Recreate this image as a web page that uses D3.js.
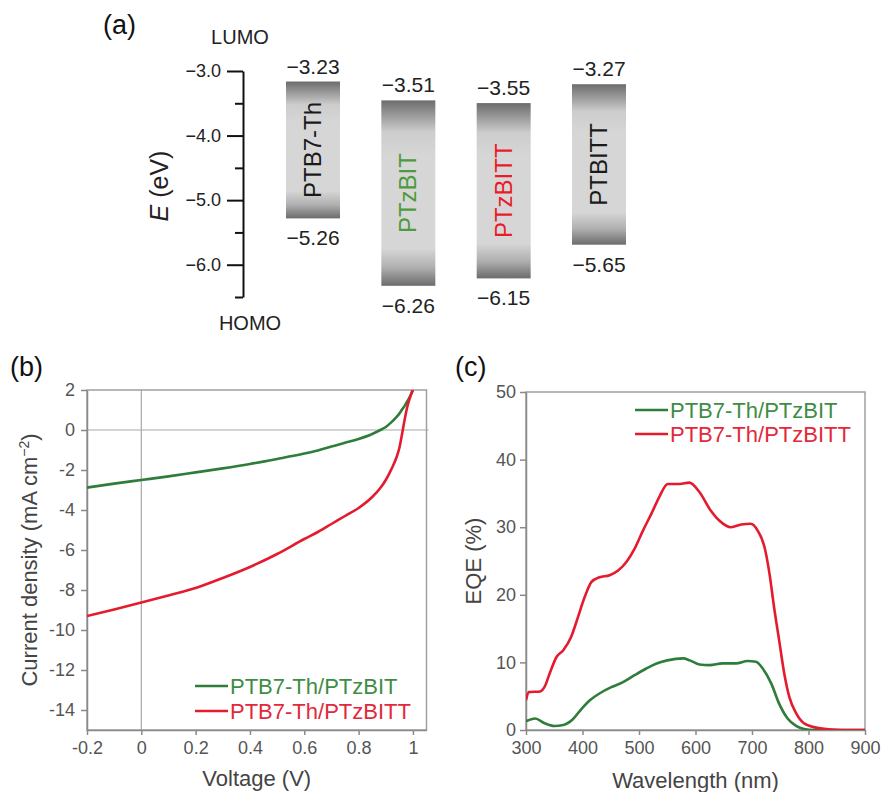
<!DOCTYPE html>
<html>
<head>
<meta charset="utf-8">
<script src="https://cdn.jsdelivr.net/npm/d3@7"></script>
<style>
  body { margin: 0; background: #fff; }
  svg { display: block; font-family: 'Liberation Sans', Arial, sans-serif; }
</style>
</head>
<body>
<div id="chart"></div>
<script>
// ---------- data: (a) energy levels ----------
const levelNames = ['PTB7-Th', 'PTzBIT', 'PTzBITT', 'PTBITT'];
const lumoLevels = [-3.23, -3.51, -3.55, -3.27];
const homoLevels = [-5.26, -6.26, -6.15, -5.65];
const energyTicks = [-3, -4, -5, -6];
const energyMinorTicks = [-3.5, -4.5, -5.5, -6.5];

// ---------- data: (b) J-V curves ----------
const jvVoltage = [-0.2, -0.1, 0, 0.1, 0.2, 0.3, 0.4, 0.5, 0.6, 0.65, 0.7, 0.75, 0.8, 0.85, 0.88, 0.9, 0.92, 0.94, 0.95, 0.96, 0.97, 0.98, 0.99, 1.0];
const jvPTzBIT = [-2.88, -2.68, -2.5, -2.32, -2.12, -1.92, -1.7, -1.45, -1.18, -1.02, -0.82, -0.64, -0.45, -0.2, 0.0, 0.15, 0.38, 0.66, 0.82, 1.02, 1.22, 1.45, 1.7, 1.98];
const jvPTzBITT = [-9.3, -8.97, -8.63, -8.27, -7.9, -7.4, -6.85, -6.2, -5.45, -5.1, -4.7, -4.3, -3.9, -3.35, -2.9, -2.5, -1.98, -1.35, -0.9, -0.2, 0.55, 1.2, 1.65, 2.05];
const jvXTicks = [-0.2, 0, 0.2, 0.4, 0.6, 0.8, 1];
const jvXTickLabels = ['-0.2', '0', '0.2', '0.4', '0.6', '0.8', '1'];
const jvYTicks = [2, 0, -2, -4, -6, -8, -10, -12, -14];
const jvYTickLabels = ['2', '0', '-2', '-4', '-6', '-8', '-10', '-12', '-14'];

// ---------- data: (c) EQE spectra ----------
const eqeWlPTzBIT = [300, 316, 333, 350, 366, 383, 398, 413, 430, 450, 470, 492, 513, 530, 550, 578, 590, 607, 625, 648, 672, 692, 707, 719, 734, 748, 763, 778, 792, 810, 850, 900];
const eqePTzBIT = [1.3, 1.7, 1.0, 0.6, 0.75, 1.6, 3.1, 4.4, 5.4, 6.3, 7.0, 8.1, 9.1, 9.8, 10.3, 10.6, 10.3, 9.7, 9.6, 9.85, 9.85, 10.2, 10.1, 9.1, 6.9, 3.9, 1.7, 0.6, 0.15, 0, 0, 0];
const eqeWlPTzBITT = [300, 305, 325, 333, 342, 354, 366, 380, 392, 404, 416, 430, 448, 463, 478, 492, 507, 522, 536, 551, 572, 589, 607, 625, 642, 663, 681, 698, 710, 722, 731, 739, 748, 757, 766, 778, 792, 813, 836, 860, 900];
const eqePTzBITT = [4.4, 5.6, 5.7, 6.4, 8.4, 10.8, 11.8, 13.8, 16.7, 19.7, 21.9, 22.6, 22.9, 23.6, 24.9, 26.8, 29.5, 32.0, 34.5, 36.4, 36.4, 36.6, 35.2, 32.7, 31.0, 30.0, 30.4, 30.5, 29.5, 27.1, 23.1, 18.2, 13.3, 8.4, 4.9, 2.5, 1.0, 0.35, 0.1, 0, 0];
const eqeXTicks = [300, 400, 500, 600, 700, 800, 900];
const eqeYTicks = [0, 10, 20, 30, 40, 50];

const seriesNames = ['PTB7-Th/PTzBIT', 'PTB7-Th/PTzBITT'];

// colours
const green = '#2f7d3a';
const red = '#e41b2f';
const greenText = '#3f8c45';
const redText = '#e3283a';
const levelTextColors = ['#1a1a1a', '#4e9a3e', '#ea1c2c', '#1a1a1a'];

const svg = d3.select('#chart')
    .append('svg')
    .attr('width', 881)
    .attr('height', 792);

const defs = svg.append('defs');

// panel labels
[['(a)', 103, 34], ['(b)', 10, 376], ['(c)', 455, 376]].forEach(([t, x, y]) => {
    svg.append('text').attr('x', x).attr('y', y)
        .attr('font-size', 27).attr('fill', '#111').text(t);
});

/* ================= (a) energy level diagram ================= */
const yE = d3.scaleLinear().domain([-3, -6.5]).range([71, 297]);
// the bars in the original are not drawn quite on the axis scale, fitted separately
const yLevel = d3.scaleLinear().domain([-3, -6.5]).range([66, 302]);
const xLevel = d3.scalePoint().domain(levelNames).range([313, 599]);
const barWidth = 54;
const axisXa = 243;

const gA = svg.append('g');

const majorAxis = d3.axisLeft(yE)
    .tickValues(energyTicks)
    .tickSize(16)
    .tickSizeOuter(0)
    .tickPadding(6)
    .tickFormat(d3.format('.1f'));

const gMajor = gA.append('g')
    .attr('transform', `translate(${axisXa},0)`)
    .call(majorAxis);
gMajor.select('.domain').attr('stroke', '#111').attr('stroke-width', 2);
gMajor.selectAll('.tick line').attr('stroke', '#111').attr('stroke-width', 2);
gMajor.selectAll('.tick text')
    .attr('font-size', 18)
    .attr('font-family', 'Liberation Sans, Arial, sans-serif')
    .attr('fill', '#222');

const gMinor = gA.append('g')
    .attr('transform', `translate(${axisXa},0)`)
    .call(d3.axisLeft(yE).tickValues(energyMinorTicks).tickSize(8).tickSizeOuter(0).tickFormat(''));
gMinor.select('.domain').remove();
gMinor.selectAll('.tick line').attr('stroke', '#111').attr('stroke-width', 2);

gA.append('text')
    .attr('x', 240).attr('y', 44)
    .attr('text-anchor', 'middle')
    .attr('font-size', 20).attr('fill', '#222')
    .text('LUMO');
gA.append('text')
    .attr('x', 250).attr('y', 330)
    .attr('text-anchor', 'middle')
    .attr('font-size', 20).attr('fill', '#222')
    .text('HOMO');

const eLabel = gA.append('text')
    .attr('transform', 'translate(168,186) rotate(-90)')
    .attr('text-anchor', 'middle')
    .attr('font-size', 25).attr('fill', '#222');
eLabel.append('tspan').attr('font-style', 'italic').text('E');
eLabel.append('tspan').text(' (eV)');

// vertical gradient for the level bars
const grad = defs.append('linearGradient')
    .attr('id', 'barGrad')
    .attr('x1', 0).attr('x2', 0).attr('y1', 0).attr('y2', 1);
[[0, '#6c6c6c'], [0.17, '#cdcdcd'], [0.3, '#d6d6d6'], [0.8, '#d6d6d6'], [0.9, '#b0b0b0'], [1, '#6c6c6c']]
    .forEach(([o, c]) => grad.append('stop').attr('offset', o).attr('stop-color', c));

const levelData = levelNames.map((name, i) => ({
    name, lumo: lumoLevels[i], homo: homoLevels[i], color: levelTextColors[i]
}));

gA.selectAll('.level-bar')
    .data(levelData)
    .join('rect')
    .attr('class', 'level-bar')
    .attr('x', d => xLevel(d.name) - barWidth / 2)
    .attr('y', d => yLevel(d.lumo))
    .attr('width', barWidth)
    .attr('height', d => yLevel(d.homo) - yLevel(d.lumo))
    .attr('fill', 'url(#barGrad)');

gA.selectAll('.level-name')
    .data(levelData)
    .join('text')
    .attr('class', 'level-name')
    .attr('transform', d => `translate(${xLevel(d.name) + 8},${(yLevel(d.lumo) + yLevel(d.homo)) / 2}) rotate(-90)`)
    .attr('text-anchor', 'middle')
    .attr('font-size', 24)
    .attr('fill', d => d.color)
    .text(d => d.name);

const fmt2 = d3.format('.2f');
gA.selectAll('.lumo-val')
    .data(levelData)
    .join('text')
    .attr('class', 'lumo-val')
    .attr('x', d => xLevel(d.name))
    .attr('y', d => yLevel(d.lumo) - 8)
    .attr('text-anchor', 'middle')
    .attr('font-size', 21).attr('fill', '#222')
    .text(d => fmt2(d.lumo));

gA.selectAll('.homo-val')
    .data(levelData)
    .join('text')
    .attr('class', 'homo-val')
    .attr('x', d => xLevel(d.name))
    .attr('y', d => yLevel(d.homo) + 27)
    .attr('text-anchor', 'middle')
    .attr('font-size', 21).attr('fill', '#222')
    .text(d => fmt2(d.homo));

/* ================= shared helpers for (b) and (c) ================= */
function styleAxis(g) {
    g.select('.domain').attr('stroke', '#8a8a8a').attr('stroke-width', 1.5);
    g.selectAll('.tick line').attr('stroke', '#8a8a8a').attr('stroke-width', 1.5);
    g.selectAll('.tick text')
        .attr('font-size', 18)
        .attr('font-family', 'Liberation Sans, Arial, sans-serif')
        .attr('fill', '#555');
}

function drawLegend(g, x, y0, gap) {
    const items = [[seriesNames[0], green, greenText], [seriesNames[1], red, redText]];
    items.forEach(([name, c, tc], i) => {
        const y = y0 + i * gap;
        g.append('line')
            .attr('x1', x).attr('x2', x + 33)
            .attr('y1', y).attr('y2', y)
            .attr('stroke', c).attr('stroke-width', 2.5);
        g.append('text')
            .attr('x', x + 35).attr('y', y + 8)
            .attr('font-size', 22).attr('fill', tc)
            .text(name);
    });
}

/* ================= (b) J-V ================= */
const xV = d3.scaleLinear().domain([-0.2, 1.05]).range([87, 426.5]);
const yJ = d3.scaleLinear().domain([-15, 2]).range([730, 390]);

const gB = svg.append('g');

defs.append('clipPath').attr('id', 'clipB')
    .append('rect')
    .attr('x', xV(-0.2)).attr('y', yJ(2))
    .attr('width', xV(1.05) - xV(-0.2)).attr('height', yJ(-15) - yJ(2));

// reference lines at V = 0 and J = 0
gB.append('line')
    .attr('x1', xV(0)).attr('x2', xV(0))
    .attr('y1', yJ(2)).attr('y2', yJ(-15))
    .attr('stroke', '#a8a8a8').attr('stroke-width', 1.2);
gB.append('line')
    .attr('x1', xV(-0.2)).attr('x2', xV(1.05) + 2)
    .attr('y1', yJ(0)).attr('y2', yJ(0))
    .attr('stroke', '#a8a8a8').attr('stroke-width', 1.2);

gB.append('rect')
    .attr('x', xV(-0.2)).attr('y', yJ(2))
    .attr('width', xV(1.05) - xV(-0.2)).attr('height', yJ(-15) - yJ(2))
    .attr('fill', 'none').attr('stroke', '#a0a0a0').attr('stroke-width', 1.5);

const gBx = gB.append('g')
    .attr('transform', `translate(0,${yJ(-15)})`)
    .call(d3.axisBottom(xV).tickValues(jvXTicks).tickSize(5).tickSizeOuter(0).tickPadding(6)
        .tickFormat((d, i) => jvXTickLabels[i]));
styleAxis(gBx);

const gBy = gB.append('g')
    .attr('transform', `translate(${xV(-0.2)},0)`)
    .call(d3.axisLeft(yJ).tickValues(jvYTicks).tickSize(6).tickSizeOuter(0).tickPadding(6)
        .tickFormat((d, i) => jvYTickLabels[i]));
styleAxis(gBy);

const jvLine = d3.line()
    .x(d => xV(d.v))
    .y(d => yJ(d.j))
    .curve(d3.curveMonotoneX);

[[jvPTzBIT, green], [jvPTzBITT, red]].forEach(([vals, c]) => {
    gB.append('path')
        .datum(jvVoltage.map((v, i) => ({ v, j: vals[i] })))
        .attr('clip-path', 'url(#clipB)')
        .attr('fill', 'none')
        .attr('stroke', c)
        .attr('stroke-width', 2.6)
        .attr('d', jvLine);
});

gB.append('text')
    .attr('x', (xV(-0.2) + xV(1.05)) / 2).attr('y', 786)
    .attr('text-anchor', 'middle')
    .attr('font-size', 22).attr('fill', '#444')
    .text('Voltage (V)');

const jLabel = gB.append('text')
    .attr('transform', `translate(37,${(yJ(2) + yJ(-15)) / 2}) rotate(-90)`)
    .attr('text-anchor', 'middle')
    .attr('font-size', 22).attr('fill', '#444');
jLabel.append('tspan').text('Current density (mA cm');
jLabel.append('tspan').attr('font-size', 14).attr('dy', -8).text('−2');
jLabel.append('tspan').attr('dy', 8).text(')');

drawLegend(gB, 195, 686, 25);

/* ================= (c) EQE ================= */
const xW = d3.scaleLinear().domain([300, 900]).range([526, 865]);
const yQ = d3.scaleLinear().domain([0, 50]).range([730, 392]);

const gC = svg.append('g');

defs.append('clipPath').attr('id', 'clipC')
    .append('rect')
    .attr('x', xW(300)).attr('y', yQ(50))
    .attr('width', xW(900) - xW(300)).attr('height', yQ(0) - yQ(50));

gC.append('rect')
    .attr('x', xW(300)).attr('y', yQ(50))
    .attr('width', xW(900) - xW(300)).attr('height', yQ(0) - yQ(50))
    .attr('fill', 'none').attr('stroke', '#a0a0a0').attr('stroke-width', 1.5);

const gCx = gC.append('g')
    .attr('transform', `translate(0,${yQ(0)})`)
    .call(d3.axisBottom(xW).tickValues(eqeXTicks).tickSize(5).tickSizeOuter(0).tickPadding(6)
        .tickFormat(d3.format('d')));
styleAxis(gCx);

const gCy = gC.append('g')
    .attr('transform', `translate(${xW(300)},0)`)
    .call(d3.axisLeft(yQ).tickValues(eqeYTicks).tickSize(6).tickSizeOuter(0).tickPadding(4)
        .tickFormat(d3.format('d')));
styleAxis(gCy);

const eqeLine = d3.line()
    .x(d => xW(d.w))
    .y(d => yQ(d.q))
    .curve(d3.curveMonotoneX);

[[eqeWlPTzBIT, eqePTzBIT, green], [eqeWlPTzBITT, eqePTzBITT, red]].forEach(([wl, vals, c]) => {
    gC.append('path')
        .datum(wl.map((w, i) => ({ w, q: vals[i] })))
        .attr('clip-path', 'url(#clipC)')
        .attr('fill', 'none')
        .attr('stroke', c)
        .attr('stroke-width', 2.6)
        .attr('d', eqeLine);
});

gC.append('text')
    .attr('x', (xW(300) + xW(900)) / 2).attr('y', 788)
    .attr('text-anchor', 'middle')
    .attr('font-size', 22).attr('fill', '#444')
    .text('Wavelength (nm)');

gC.append('text')
    .attr('transform', `translate(481,${(yQ(0) + yQ(50)) / 2}) rotate(-90)`)
    .attr('text-anchor', 'middle')
    .attr('font-size', 22).attr('fill', '#444')
    .text('EQE (%)');

drawLegend(gC, 635, 410, 24);
</script>
</body>
</html>
